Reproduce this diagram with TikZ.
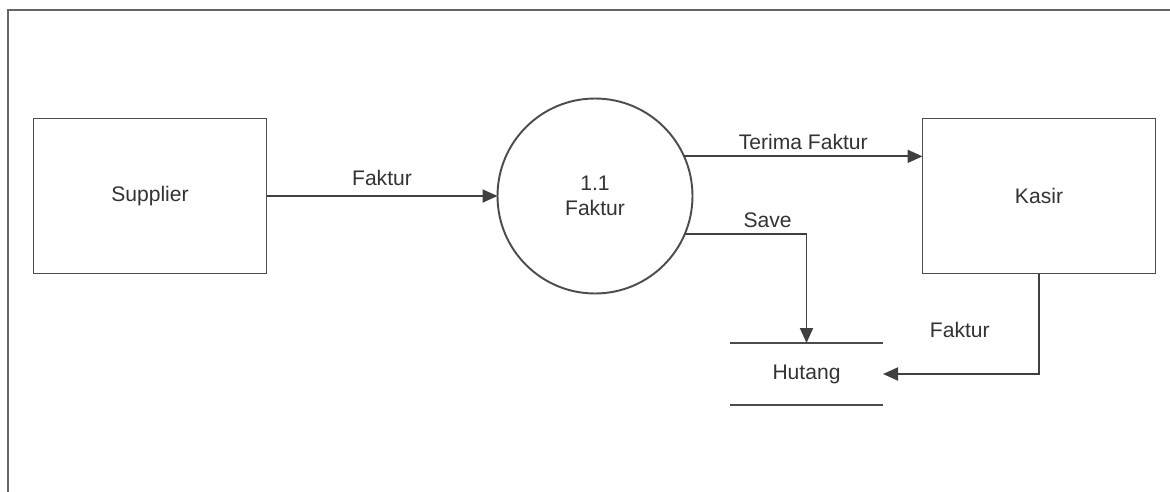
\documentclass[tikz,border=0pt]{standalone}
\usepackage{fontspec}
\setmainfont{Liberation Sans}
\usetikzlibrary{calc, arrows.meta, positioning}

\begin{document}
\begin{tikzpicture}[auto, node distance=2cm, >={Triangle[length=0.3cm, width=0.26cm]}, line width=1.1pt, draw=black!70, font=\fontsize{12}{14.2}\selectfont]
  % Estilos de entidades, proceso y almacen
  \tikzstyle{entity} = [draw=black!70, rectangle, minimum height=3.1cm, minimum width=4.66cm, inner sep=0pt, outer sep=0pt, text=black!80]
  \tikzstyle{process} = [draw=black!70, circle, minimum size=3.9cm, inner sep=0pt, outer sep=0pt, align=center, text=black!80]
  \tikzstyle{store} = [rectangle, minimum height=1.24cm, minimum width=3.06cm, inner sep=0pt, outer sep=0pt, text=black!80]
  \tikzstyle{flow} = [->, draw=black!75]

  % Marco
  \useasboundingbox (0,0) rectangle (23.4,-9.84);
  \clip (0,0) rectangle (23.4,-9.84);
  \draw [black!60, line width=1.4pt] (0.16,-0.2) rectangle (23.8,-10.3);

  % Nodos
  \node at (3.0,-3.92) [entity] (supplier) {Supplier};
  \node [process, right=4.62cm of supplier] (faktur) {1.1\\Faktur};
  \node [entity, right=4.6cm of faktur] (kasir) {Kasir};
  \node at (16.13,-7.48) [store] (hutang) {Hutang}; % Almacen de datos
  \draw [-] (hutang.north west) -- (hutang.north east);
  \draw [-] (hutang.south west) -- (hutang.south east);

  % Flujos
  \draw [flow] (supplier) -- node [text=black!80, yshift=2pt] {Faktur} (faktur);
  \draw [flow] (faktur.24) -- node [text=black!80] {Terima Faktur} (faktur.24 -| kasir.west);
  \draw [flow] (faktur.-23) -| node [pos=0.34, text=black!80] {Save} (hutang.north);
  \draw [flow] (kasir.south) |- node [pos=0.28, left=0.85cm, text=black!80] {Faktur} (hutang.east);
\end{tikzpicture}
\end{document}
